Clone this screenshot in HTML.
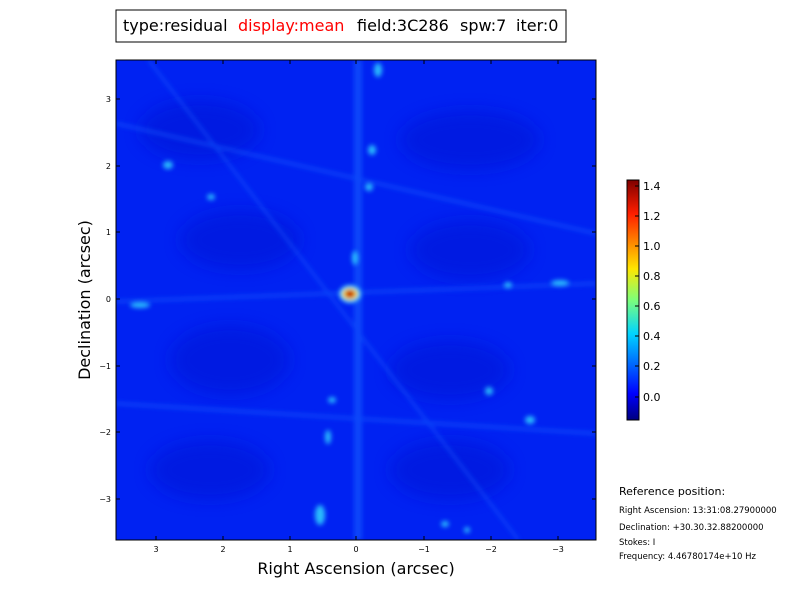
<!DOCTYPE html>
<html><head><style>
body{margin:0;background:#fff;width:800px;height:600px;overflow:hidden;font-family:"Liberation Sans","DejaVu Sans",sans-serif}
</style></head><body>
<svg width="800" height="600" xmlns="http://www.w3.org/2000/svg" font-family="DejaVu Sans, Liberation Sans, sans-serif">
<defs>
<filter id="b" x="-50%" y="-50%" width="200%" height="200%"><feGaussianBlur stdDeviation="2.5"/></filter>
<filter id="b2" x="-50%" y="-50%" width="200%" height="200%"><feGaussianBlur stdDeviation="8"/></filter>
<linearGradient id="jet" x1="0" y1="1" x2="0" y2="0">
<stop offset="0" stop-color="#00007f"/><stop offset="0.11" stop-color="#0000ff"/>
<stop offset="0.36" stop-color="#00d4ff"/><stop offset="0.5" stop-color="#7dff7a"/>
<stop offset="0.63" stop-color="#ffe600"/><stop offset="0.86" stop-color="#ff1e00"/>
<stop offset="1" stop-color="#7f0000"/></linearGradient>
<clipPath id="c"><rect x="116" y="60" width="480" height="480"/></clipPath>
</defs>
<rect x="116" y="60" width="480" height="480" fill="#0022f2"/>
<g clip-path="url(#c)">
<g filter="url(#b2)" fill="#0014d8" opacity="0.6">
<ellipse cx="200" cy="130" rx="60" ry="30"/><ellipse cx="470" cy="140" rx="70" ry="30"/>
<ellipse cx="230" cy="360" rx="60" ry="35"/><ellipse cx="450" cy="370" rx="60" ry="30"/>
<ellipse cx="240" cy="240" rx="60" ry="30"/><ellipse cx="470" cy="250" rx="60" ry="30"/>
<ellipse cx="210" cy="470" rx="60" ry="30"/><ellipse cx="450" cy="470" rx="60" ry="30"/>
</g>
<g filter="url(#b)" fill="#1460ff" opacity="0.6">
<rect x="354" y="60" width="8" height="480"/>
<polygon points="116,300 596,282 596,285 116,303"/>
<polygon points="116,122 596,232 596,235 116,125"/>
<polygon points="116,402 596,432 596,435 116,405"/>
<polygon points="150,60 520,540 517,540 147,60"/>
</g>
<g filter="url(#b)" fill="#30d8ff" opacity="0.85">
<ellipse cx="378" cy="70" rx="4" ry="7"/><ellipse cx="372" cy="150" rx="4" ry="5"/>
<ellipse cx="369" cy="187" rx="4" ry="4"/><ellipse cx="211" cy="197" rx="4" ry="3"/>
<ellipse cx="168" cy="165" rx="5" ry="4"/><ellipse cx="355" cy="258" rx="3" ry="7"/>
<ellipse cx="332" cy="400" rx="4" ry="3"/><ellipse cx="328" cy="437" rx="3" ry="7"/>
<ellipse cx="320" cy="515" rx="5" ry="10"/><ellipse cx="489" cy="391" rx="4" ry="4"/>
<ellipse cx="530" cy="420" rx="5" ry="4"/><ellipse cx="560" cy="283" rx="9" ry="3"/>
<ellipse cx="140" cy="305" rx="10" ry="3"/><ellipse cx="445" cy="524" rx="4" ry="3"/>
<ellipse cx="467" cy="530" rx="3" ry="3"/><ellipse cx="508" cy="285" rx="4" ry="3"/>
</g>
<g filter="url(#b)">
<ellipse cx="350" cy="294" rx="11" ry="9" fill="#30d0ff"/>
<ellipse cx="350" cy="294" rx="8" ry="6" fill="#ffe000"/>
<ellipse cx="350" cy="294" rx="5" ry="4" fill="#c00000"/>
</g>
</g>
<rect x="116" y="60" width="480" height="480" fill="none" stroke="#000"/>
<g stroke="#000">
<path d="M156,540v-4M223,540v-4M290,540v-4M356,540v-4M424,540v-4M491,540v-4M558,540v-4M156,60v4M223,60v4M290,60v4M356,60v4M424,60v4M491,60v4M558,60v4"/>
<path d="M116,99h4M116,166h4M116,232h4M116,299h4M116,366h4M116,432h4M116,499h4M596,99h-4M596,166h-4M596,232h-4M596,299h-4M596,366h-4M596,432h-4M596,499h-4"/>
</g>
<g font-size="8" text-anchor="middle">
<text x="156" y="552">3</text><text x="223" y="552">2</text><text x="290" y="552">1</text><text x="356" y="552">0</text>
<text x="424" y="552">−1</text><text x="491" y="552">−2</text><text x="558" y="552">−3</text>
</g>
<g font-size="8" text-anchor="end">
<text x="111" y="102">3</text><text x="111" y="169">2</text><text x="111" y="235">1</text><text x="111" y="302">0</text>
<text x="111" y="369">−1</text><text x="111" y="435">−2</text><text x="111" y="502">−3</text>
</g>
<text x="356" y="574" font-size="16" text-anchor="middle">Right Ascension (arcsec)</text>
<text transform="translate(90,300) rotate(-90)" font-size="16" text-anchor="middle">Declination (arcsec)</text>
<rect x="116" y="10" width="450" height="32" fill="#fff" stroke="#000"/>
<text y="31" font-size="16"><tspan x="123">type:residual</tspan><tspan x="238" fill="#f00">display:mean</tspan><tspan x="357">field:3C286</tspan><tspan x="460">spw:7</tspan><tspan x="516">iter:0</tspan></text>
<rect x="627" y="180" width="12" height="240" fill="url(#jet)" stroke="#000"/>
<g stroke="#000"><path d="M635,186h4M635,216h4M635,246h4M635,276h4M635,306h4M635,336h4M635,366h4M635,397h4"/></g>
<g font-size="11">
<text x="643" y="190">1.4</text><text x="643" y="220">1.2</text><text x="643" y="250">1.0</text><text x="643" y="280">0.8</text>
<text x="643" y="310">0.6</text><text x="643" y="340">0.4</text><text x="643" y="370">0.2</text><text x="643" y="401">0.0</text>
</g>
<text x="619" y="495" font-size="11">Reference position:</text>
<g font-size="8.5">
<text x="619" y="513">Right Ascension: 13:31:08.27900000</text>
<text x="619" y="530">Declination: +30.30.32.88200000</text>
<text x="619" y="545">Stokes: I</text>
<text x="619" y="559">Frequency: 4.46780174e+10 Hz</text>
</g>
</svg>
</body></html>
